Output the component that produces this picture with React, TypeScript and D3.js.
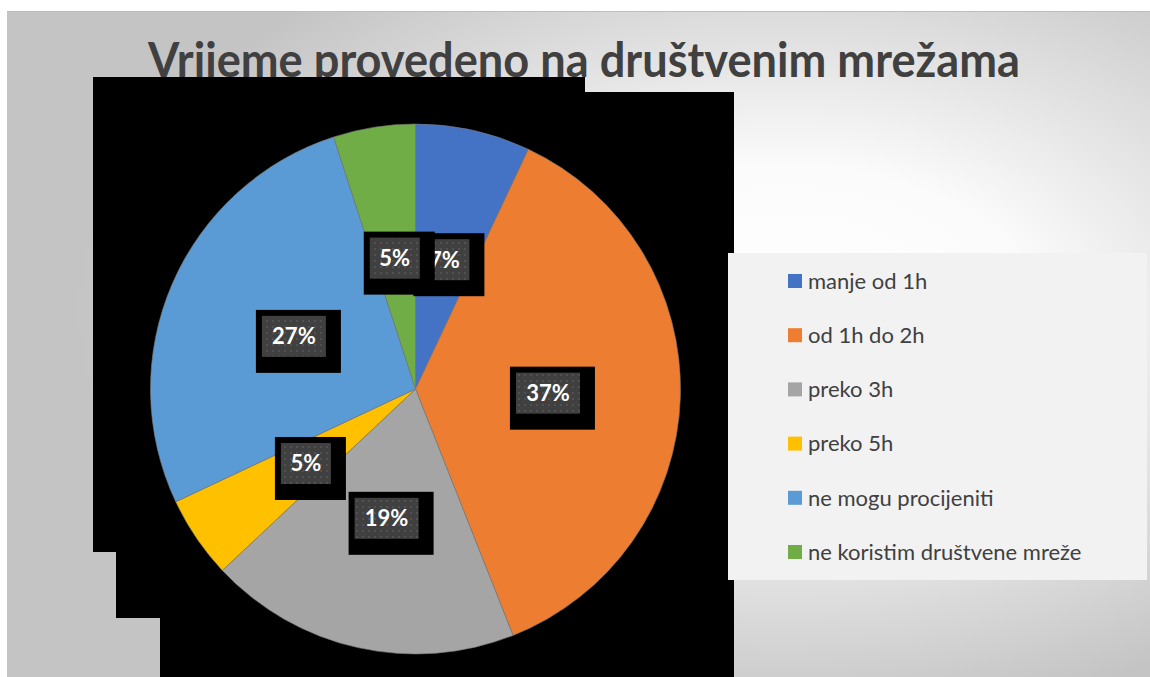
import React from "react";
import * as d3 from "d3";

const categories = [
  "manje od 1h",
  "od 1h do 2h",
  "preko 3h",
  "preko 5h",
  "ne mogu procijeniti",
  "ne koristim društvene mreže",
];
const values = [7, 37, 19, 5, 27, 5];
const labels = ["7%", "37%", "19%", "5%", "27%", "5%"];
const colors = ["#4472C4", "#ED7D31", "#A5A5A5", "#FFC000", "#5B9BD5", "#70AD47"];
const title = "Vrijeme provedeno na društvenim mrežama";

const W = 1150;
const H = 677;

export default function App() {
  const cx = 415.5;
  const cy = 389;
  const r = 265;
  const pie = d3.pie<number>().sort(null).value((d) => d)(values);
  const arc = d3.arc<d3.PieArcDatum<number>>().innerRadius(0).outerRadius(r);

  // black artifact shape behind the pie
  const blackPath =
    "M93,77 L585,77 L585,92 L734,92 L734,677 L160,677 L160,618 L116,618 L116,552 L93,552 Z";

  const legendY = d3
    .scalePoint<string>()
    .domain(categories)
    .range([281, 552]);

  return (
    <div style={{ position: "absolute", left: 0, top: 0, width: W, height: H, background: "#fff" }}>
      <svg width={W} height={H} style={{ display: "block" }}>
        <defs>
          <radialGradient id="bg" cx="0.68" cy="0.45" r="0.62" gradientUnits="objectBoundingBox">
            <stop offset="0" stopColor="#ffffff" />
            <stop offset="0.35" stopColor="#fbfbfb" />
            <stop offset="1" stopColor="#c4c4c4" />
          </radialGradient>
          <pattern id="dots" width="6" height="6" patternUnits="userSpaceOnUse">
            <rect width="6" height="6" fill="#404040" />
            <rect x="2" y="2" width="2" height="2" fill="#515151" />
          </pattern>
        </defs>
        <rect x={7} y={11} width={W - 7} height={H - 11} fill="url(#bg)" />
        <line x1={7} x2={W} y1={11.5} y2={11.5} stroke="#bdbdbd" strokeWidth={1} />
        <text
          x={584}
          y={77}
          textAnchor="middle"
          fontFamily="Lato, 'Open Sans', sans-serif"
          fontWeight="bold"
          fontSize={47}
          fill="#404040"
          textLength={872}
          lengthAdjust="spacingAndGlyphs"
        >
          {title}
        </text>
        <path d={blackPath} fill="#000" />
        <g transform={`translate(${cx},${cy})`}>
          {pie.map((p, i) => (
            <path key={i} d={arc(p) || ""} fill={colors[i]} stroke="#7a7a7a" strokeWidth={0.6} />
          ))}
        </g>
        {pie.map((p, i) => {
          const [lx, ly] = arc.centroid(p);
          const x = cx + lx;
          const y = cy + ly;
          const gw = 36 + 14 * (labels[i].length - 1);
          const gh = 41;
          const gx = x - gw / 2;
          const gy = y - gh / 2;
          return (
            <g key={i}>
              <rect x={gx - 6} y={gy - 6} width={gw + 21} height={gh + 22} fill="#000" />
              <rect x={gx} y={gy} width={gw} height={gh} fill="url(#dots)" />
              <text
                x={x}
                y={y + 8}
                textAnchor="middle"
                fontFamily="Lato, 'Open Sans', sans-serif"
                fontWeight="bold"
                fontSize={22}
                fill="#ffffff"
              >
                {labels[i]}
              </text>
            </g>
          );
        })}
        <rect x={728} y={253} width={419} height={327} fill="#f2f2f2" />
        {categories.map((c, i) => {
          const y = legendY(c) as number;
          return (
            <g key={c}>
              <rect x={788} y={y - 7} width={14} height={14} fill={colors[i]} />
              <text
                x={808}
                y={y}
                dy="0.35em"
                fontFamily="Lato, 'Open Sans', sans-serif"
                fontSize={22}
                fill="#404040"
              >
                {c}
              </text>
            </g>
          );
        })}
      </svg>
    </div>
  );
}
